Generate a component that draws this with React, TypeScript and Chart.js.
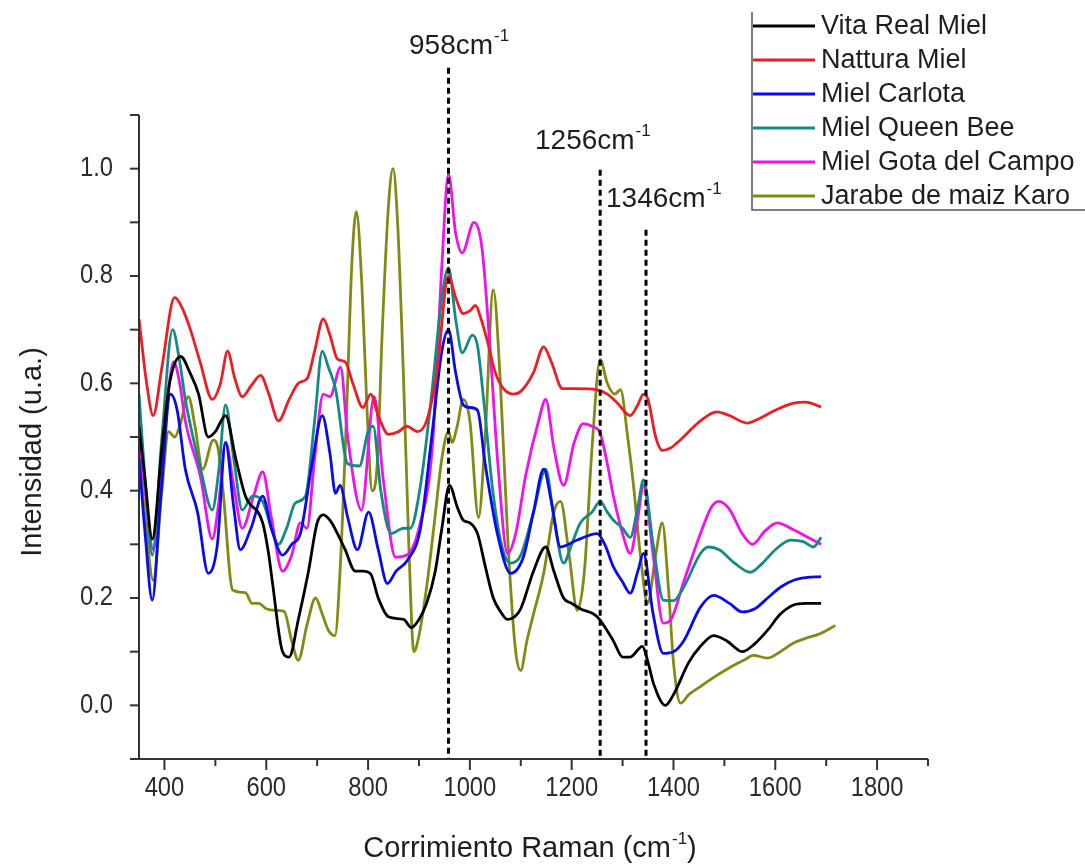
import React, { useEffect, useRef } from "react";
import { Chart, registerables } from "chart.js";

Chart.register(...registerables);

// Raman shift (cm-1) and normalised intensity for each sample
const vitaX = [350, 362, 376, 395, 410, 432, 450, 467, 486, 500, 520, 540, 559, 593, 605, 612, 632, 645, 663, 683, 700, 712, 725, 740, 755, 775, 790, 805, 820, 840, 870, 885, 900, 915, 932, 945, 960, 975, 987, 1000, 1015, 1030, 1046, 1060, 1074, 1088, 1100, 1125, 1149, 1165, 1184, 1200, 1217, 1250, 1282, 1300, 1315, 1339, 1350, 1361, 1384, 1400, 1430, 1453, 1479, 1505, 1535, 1560, 1585, 1610, 1636, 1660, 1690];
const vitaY = [0.52, 0.42, 0.31, 0.48, 0.60, 0.65, 0.62, 0.58, 0.50, 0.51, 0.54, 0.46, 0.39, 0.34, 0.28, 0.23, 0.10, 0.09, 0.16, 0.25, 0.34, 0.355, 0.345, 0.32, 0.29, 0.25, 0.25, 0.245, 0.20, 0.165, 0.16, 0.145, 0.16, 0.19, 0.25, 0.33, 0.41, 0.37, 0.345, 0.34, 0.32, 0.26, 0.20, 0.175, 0.16, 0.165, 0.18, 0.25, 0.295, 0.25, 0.20, 0.19, 0.18, 0.165, 0.12, 0.09, 0.09, 0.11, 0.08, 0.04, 0.0, 0.02, 0.08, 0.11, 0.13, 0.12, 0.10, 0.115, 0.14, 0.17, 0.187, 0.19, 0.19];

const natturaX = [350, 365, 378, 395, 420, 435, 451, 470, 494, 510, 524, 538, 553, 570, 589, 605, 624, 645, 663, 681, 695, 712, 725, 740, 755, 770, 790, 805, 820, 840, 860, 876, 897, 915, 935, 958, 972, 987, 1000, 1011, 1022, 1034, 1050, 1066, 1085, 1100, 1125, 1145, 1160, 1182, 1210, 1250, 1270, 1290, 1315, 1330, 1341, 1350, 1365, 1378, 1395, 1414, 1453, 1485, 1510, 1545, 1570, 1600, 1636, 1660, 1690];
const natturaY = [0.72, 0.60, 0.54, 0.63, 0.76, 0.74, 0.70, 0.64, 0.57, 0.60, 0.66, 0.61, 0.575, 0.595, 0.615, 0.58, 0.53, 0.57, 0.60, 0.61, 0.66, 0.72, 0.69, 0.645, 0.64, 0.60, 0.555, 0.58, 0.54, 0.505, 0.51, 0.52, 0.51, 0.53, 0.62, 0.80, 0.76, 0.73, 0.735, 0.745, 0.72, 0.68, 0.62, 0.59, 0.58, 0.585, 0.62, 0.668, 0.64, 0.59, 0.59, 0.588, 0.58, 0.563, 0.54, 0.56, 0.58, 0.57, 0.50, 0.475, 0.48, 0.495, 0.53, 0.547, 0.54, 0.526, 0.535, 0.55, 0.563, 0.565, 0.556];

const carlotaX = [350, 362, 376, 392, 412, 425, 441, 465, 486, 504, 520, 536, 549, 570, 593, 610, 632, 650, 667, 690, 710, 725, 736, 745, 760, 779, 801, 820, 838, 855, 877, 903, 925, 945, 958, 972, 987, 1000, 1015, 1030, 1054, 1080, 1105, 1125, 1145, 1160, 1178, 1211, 1250, 1265, 1282, 1300, 1315, 1330, 1341, 1360, 1380, 1400, 1420, 1453, 1479, 1510, 1535, 1560, 1585, 1610, 1636, 1660, 1690];
const carlotaY = [0.46, 0.32, 0.196, 0.38, 0.58, 0.55, 0.44, 0.36, 0.246, 0.30, 0.49, 0.37, 0.29, 0.33, 0.39, 0.33, 0.28, 0.30, 0.32, 0.45, 0.54, 0.47, 0.395, 0.41, 0.35, 0.29, 0.36, 0.29, 0.227, 0.25, 0.27, 0.33, 0.50, 0.66, 0.70, 0.62, 0.56, 0.555, 0.55, 0.45, 0.32, 0.246, 0.276, 0.36, 0.44, 0.38, 0.295, 0.308, 0.32, 0.30, 0.258, 0.23, 0.209, 0.25, 0.283, 0.17, 0.097, 0.10, 0.12, 0.183, 0.205, 0.19, 0.174, 0.18, 0.20, 0.22, 0.233, 0.238, 0.24];

const queenX = [350, 362, 376, 395, 416, 430, 441, 471, 494, 507, 520, 536, 553, 573, 593, 610, 624, 640, 657, 677, 695, 710, 722, 736, 760, 783, 800, 810, 825, 845, 870, 883, 903, 925, 945, 958, 972, 985, 1005, 1015, 1027, 1045, 1062, 1080, 1100, 1125, 1149, 1165, 1184, 1200, 1217, 1240, 1256, 1270, 1282, 1300, 1315, 1330, 1341, 1360, 1380, 1400, 1420, 1453, 1469, 1490, 1520, 1551, 1575, 1600, 1630, 1655, 1675, 1690];
const queenY = [0.58, 0.42, 0.28, 0.50, 0.70, 0.64, 0.57, 0.44, 0.364, 0.44, 0.56, 0.46, 0.364, 0.39, 0.38, 0.33, 0.30, 0.33, 0.377, 0.39, 0.53, 0.66, 0.63, 0.59, 0.45, 0.446, 0.51, 0.52, 0.40, 0.32, 0.33, 0.33, 0.41, 0.58, 0.76, 0.815, 0.72, 0.657, 0.69, 0.67, 0.57, 0.40, 0.30, 0.265, 0.28, 0.36, 0.44, 0.35, 0.265, 0.30, 0.34, 0.36, 0.38, 0.36, 0.345, 0.33, 0.313, 0.37, 0.42, 0.30, 0.196, 0.195, 0.22, 0.283, 0.295, 0.29, 0.265, 0.248, 0.265, 0.29, 0.308, 0.305, 0.295, 0.313];

const gotaX = [350, 362, 378, 395, 418, 430, 441, 471, 494, 507, 520, 536, 553, 575, 593, 610, 632, 650, 667, 680, 695, 712, 725, 746, 760, 787, 812, 830, 854, 876, 900, 927, 945, 958, 972, 985, 1008, 1024, 1040, 1055, 1074, 1090, 1110, 1135, 1149, 1165, 1184, 1205, 1223, 1240, 1256, 1270, 1282, 1300, 1315, 1330, 1341, 1360, 1380, 1395, 1420, 1453, 1475, 1489, 1510, 1535, 1555, 1580, 1604, 1630, 1660, 1690];
const gotaY = [0.50, 0.40, 0.29, 0.45, 0.64, 0.60, 0.53, 0.425, 0.31, 0.38, 0.49, 0.41, 0.33, 0.39, 0.435, 0.35, 0.25, 0.28, 0.34, 0.33, 0.46, 0.58, 0.575, 0.63, 0.50, 0.364, 0.575, 0.42, 0.276, 0.28, 0.33, 0.49, 0.82, 0.99, 0.88, 0.843, 0.90, 0.85, 0.66, 0.45, 0.283, 0.32, 0.43, 0.53, 0.57, 0.48, 0.41, 0.49, 0.525, 0.52, 0.507, 0.45, 0.39, 0.32, 0.283, 0.35, 0.41, 0.28, 0.153, 0.16, 0.23, 0.32, 0.37, 0.38, 0.365, 0.32, 0.30, 0.325, 0.34, 0.33, 0.315, 0.30];

const karoX = [350, 362, 378, 395, 408, 420, 430, 447, 460, 475, 496, 505, 515, 534, 559, 572, 585, 600, 618, 635, 650, 663, 680, 697, 710, 722, 735, 745, 758, 768, 777, 788, 798, 808, 818, 828, 840, 849, 858, 870, 880, 890, 900, 915, 929, 945, 958, 965, 975, 987, 1000, 1017, 1030, 1046, 1060, 1075, 1090, 1100, 1112, 1125, 1145, 1165, 1178, 1195, 1211, 1225, 1240, 1256, 1270, 1284, 1296, 1310, 1321, 1335, 1349, 1365, 1378, 1390, 1400, 1414, 1430, 1453, 1479, 1510, 1540, 1557, 1585, 1610, 1636, 1660, 1689, 1718];
const karoY = [0.47, 0.35, 0.233, 0.40, 0.51, 0.50, 0.52, 0.575, 0.52, 0.44, 0.494, 0.48, 0.40, 0.215, 0.21, 0.19, 0.19, 0.18, 0.177, 0.175, 0.12, 0.084, 0.15, 0.20, 0.17, 0.14, 0.13, 0.25, 0.55, 0.82, 0.92, 0.78, 0.55, 0.40, 0.45, 0.70, 0.93, 1.0, 0.90, 0.60, 0.30, 0.10, 0.13, 0.22, 0.33, 0.46, 0.51, 0.49, 0.52, 0.57, 0.53, 0.35, 0.50, 0.774, 0.60, 0.30, 0.10, 0.065, 0.12, 0.17, 0.246, 0.36, 0.38, 0.28, 0.177, 0.25, 0.48, 0.644, 0.60, 0.58, 0.588, 0.50, 0.414, 0.28, 0.19, 0.28, 0.34, 0.22, 0.08, 0.004, 0.02, 0.035, 0.052, 0.07, 0.085, 0.093, 0.088, 0.10, 0.116, 0.125, 0.134, 0.149];

const seriesNames = ["Vita Real Miel", "Nattura Miel", "Miel Carlota", "Miel Queen Bee", "Miel Gota del Campo", "Jarabe de maiz Karo"];
const seriesColors = ["#000000", "#ee1c24", "#0a0aee", "#138a86", "#f010f0", "#838a12"];
const seriesX = [vitaX, natturaX, carlotaX, queenX, gotaX, karoX];
const seriesY = [vitaY, natturaY, carlotaY, queenY, gotaY, karoY];

// Marked bands: position, label and top of the dashed guide (intensity units)
const bandPositions = [958, 1256, 1346];
const bandLabels = ["958", "1256", "1346"];
const bandTops = [1.188, 0.998, 0.886];

// Axis ticks
const xMajorTicks = [400, 600, 800, 1000, 1200, 1400, 1600, 1800];
const xMinorTicks = [500, 700, 900, 1100, 1300, 1500, 1700, 1900];
const yLabelTicks = [0.0, 0.2, 0.4, 0.6, 0.8, 1.0];
const yAllTicks = [-0.1, 0.0, 0.1, 0.2, 0.3, 0.4, 0.5, 0.6, 0.7, 0.8, 0.9, 1.0, 1.1];

const FONT = "'Liberation Sans', Arial, Helvetica, sans-serif";
const TEXT = "#1e1e1e";

function drawSup(ctx: CanvasRenderingContext2D, base: string, sup: string, tail: string, x: number, y: number, size: number, align: "left" | "center") {
  ctx.font = `${size}px ${FONT}`;
  const wBase = ctx.measureText(base).width;
  const supSize = Math.round(size * 0.6);
  ctx.font = `${supSize}px ${FONT}`;
  const wSup = ctx.measureText(sup).width;
  ctx.font = `${size}px ${FONT}`;
  const wTail = ctx.measureText(tail).width;
  const total = wBase + wSup + wTail + 1;
  const x0 = align === "center" ? x - total / 2 : x;
  ctx.textAlign = "left";
  ctx.textBaseline = "alphabetic";
  ctx.fillText(base, x0, y);
  ctx.font = `${supSize}px ${FONT}`;
  ctx.fillText(sup, x0 + wBase + 1, y - size * 0.45);
  ctx.font = `${size}px ${FONT}`;
  ctx.fillText(tail, x0 + wBase + wSup + 1, y);
}

const decorPlugin = {
  id: "ramanDecor",
  afterDatasetsDraw(chart: any) {
    const ctx: CanvasRenderingContext2D = chart.ctx;
    const xs = chart.scales.x;
    const ys = chart.scales.y;
    const bottom = chart.chartArea.bottom;
    ctx.save();
    ctx.strokeStyle = "#000";
    ctx.lineWidth = 3;
    ctx.setLineDash([6, 4]);
    bandPositions.forEach((v, i) => {
      const px = xs.getPixelForValue(v);
      ctx.beginPath();
      ctx.moveTo(px, ys.getPixelForValue(bandTops[i]));
      ctx.lineTo(px, bottom);
      ctx.stroke();
    });
    ctx.restore();
  },
  afterDraw(chart: any) {
    const ctx: CanvasRenderingContext2D = chart.ctx;
    const xs = chart.scales.x;
    const ys = chart.scales.y;
    const { left, right, top, bottom } = chart.chartArea;
    ctx.save();

    // axis lines
    ctx.strokeStyle = "#333";
    ctx.lineWidth = 2;
    ctx.beginPath();
    ctx.moveTo(left, top);
    ctx.lineTo(left, bottom);
    ctx.lineTo(right, bottom);
    ctx.stroke();

    // y ticks
    yAllTicks.forEach((v) => {
      const py = ys.getPixelForValue(v);
      ctx.beginPath();
      ctx.moveTo(left - 9, py);
      ctx.lineTo(left, py);
      ctx.stroke();
    });
    // x ticks
    xMajorTicks.forEach((v) => {
      const px = xs.getPixelForValue(v);
      ctx.beginPath();
      ctx.moveTo(px, bottom);
      ctx.lineTo(px, bottom + 11);
      ctx.stroke();
    });
    xMinorTicks.forEach((v) => {
      const px = xs.getPixelForValue(v);
      ctx.beginPath();
      ctx.moveTo(px, bottom);
      ctx.lineTo(px, bottom + 7);
      ctx.stroke();
    });

    // tick labels (slightly condensed)
    ctx.fillStyle = "#2a2a2a";
    ctx.font = `27px ${FONT}`;
    ctx.textBaseline = "middle";
    yLabelTicks.forEach((v) => {
      const py = ys.getPixelForValue(v);
      ctx.save();
      ctx.translate(113, py);
      ctx.scale(0.88, 1);
      ctx.textAlign = "right";
      ctx.fillText(v.toFixed(1), 0, 0);
      ctx.restore();
    });
    xMajorTicks.forEach((v) => {
      const px = xs.getPixelForValue(v);
      ctx.save();
      ctx.translate(px, 789);
      ctx.scale(0.88, 1);
      ctx.textAlign = "center";
      ctx.fillText(String(v), 0, 0);
      ctx.restore();
    });

    // axis titles
    ctx.fillStyle = TEXT;
    drawSup(ctx, "Corrimiento Raman (cm", "-1", ")", 530, 857, 29, "center");
    ctx.save();
    ctx.translate(41, 452);
    ctx.rotate(-Math.PI / 2);
    ctx.font = `29px ${FONT}`;
    ctx.textAlign = "center";
    ctx.textBaseline = "alphabetic";
    ctx.fillText("Intensidad (u.a.)", 0, 0);
    ctx.restore();

    // band labels
    const labelLeft = [409, 535, 606];
    const labelBase = [54, 149, 207];
    bandLabels.forEach((t, i) => {
      drawSup(ctx, t + "cm", "-1", "", labelLeft[i], labelBase[i], 28, "left");
    });

    // legend
    ctx.strokeStyle = "#555";
    ctx.lineWidth = 1.5;
    ctx.beginPath();
    ctx.moveTo(752, 12);
    ctx.lineTo(752, 210);
    ctx.lineTo(1085, 210);
    ctx.stroke();
    seriesNames.forEach((name, i) => {
      const cy = 26 + i * 34;
      ctx.strokeStyle = seriesColors[i];
      ctx.lineWidth = 3;
      ctx.beginPath();
      ctx.moveTo(753, cy);
      ctx.lineTo(815, cy);
      ctx.stroke();
      ctx.fillStyle = TEXT;
      ctx.font = `27px ${FONT}`;
      ctx.textAlign = "left";
      ctx.textBaseline = "middle";
      ctx.fillText(name, 821, cy + 1);
    });

    ctx.restore();
  },
};

export default function App() {
  const canvasRef = useRef<HTMLCanvasElement | null>(null);

  useEffect(() => {
    const canvas = canvasRef.current;
    if (!canvas) return;
    const datasets = seriesNames.map((name, i) => ({
      label: name,
      data: seriesX[i].map((x, j) => ({ x, y: seriesY[i][j] })),
      borderColor: seriesColors[i],
      backgroundColor: seriesColors[i],
      borderWidth: 2.8,
      pointRadius: 0,
      cubicInterpolationMode: "monotone" as const,
      fill: false,
    }));
    const chart = new Chart(canvas, {
      type: "line",
      data: { datasets },
      options: {
        animation: false,
        responsive: false,
        devicePixelRatio: 1,
        layout: { padding: { left: 139, right: 157, top: 115, bottom: 105 } },
        scales: {
          x: { type: "linear", min: 350, max: 1900, display: false },
          y: { type: "linear", min: -0.1, max: 1.1, display: false },
        },
        plugins: { legend: { display: false }, tooltip: { enabled: false } },
      },
      plugins: [decorPlugin],
    });
    return () => chart.destroy();
  }, []);

  return (
    <div style={{ position: "absolute", left: 0, top: 0, width: 1085, height: 864, background: "#fff" }}>
      <canvas ref={canvasRef} width={1085} height={864} />
    </div>
  );
}
